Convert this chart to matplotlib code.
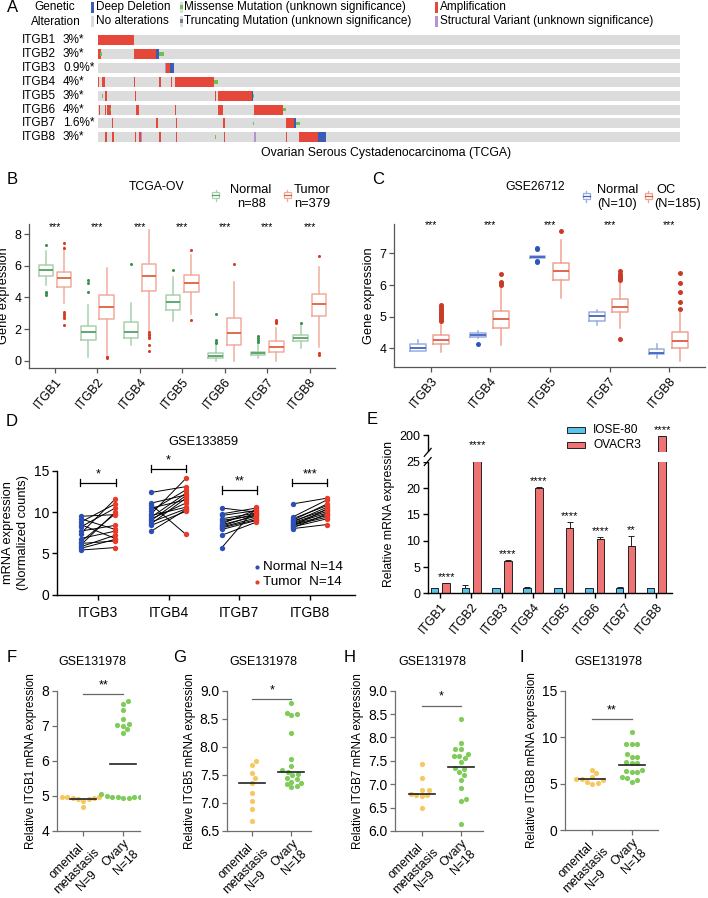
import numpy as np
import matplotlib
matplotlib.use('Agg')
import matplotlib.pyplot as plt
from matplotlib.patches import Rectangle
import matplotlib.transforms as mtransforms
from matplotlib.textpath import TextPath
from matplotlib.font_manager import FontProperties

FAMILY = ['Liberation Sans', 'DejaVu Sans']
plt.rcParams['font.family'] = FAMILY
plt.rcParams['axes.linewidth'] = 0.9

# ---------------- DATA ----------------
# Panel A (oncoprint, sample-index units)
onco_genes = ['ITGB1', 'ITGB2', 'ITGB3', 'ITGB4', 'ITGB5', 'ITGB6', 'ITGB7', 'ITGB8']
onco_pct = ['3%*', '3%*', '0.9%*', '4%*', '3%*', '4%*', '1.6%*', '3%*']
n_samples = 291
amp_segments = [
    (0, 0, 18),
    (1, 0, 1.6), (1, 18, 10.8),
    (2, 33.8, 2.4),
    (3, 0, 0.6), (3, 2.2, 1.3), (3, 18, 0.6), (3, 30.7, 0.6), (3, 36.5, 0.6), (3, 38.5, 19.3),
    (4, 3.5, 1.2), (4, 18.5, 0.6), (4, 58.5, 0.6), (4, 59.8, 17.4),
    (5, 0.3, 0.6), (5, 3.5, 0.6), (5, 4.7, 1.6), (5, 18.8, 1.7), (5, 38.5, 0.6), (5, 60.2, 2.3), (5, 77.8, 14.5),
    (6, 6.8, 0.6), (6, 29.2, 0.7), (6, 39, 0.6), (6, 62.7, 0.6), (6, 93.8, 4.4),
    (7, 3.5, 1.2), (7, 7.2, 1.0), (7, 18.5, 0.6), (7, 20.5, 1.0), (7, 30.7, 0.6), (7, 39, 0.6),
    (7, 62.8, 0.6), (7, 94, 0.6), (7, 100.7, 9.1),
]
del_segments = [(1, 28.8, 1.7), (2, 36.2, 2.0), (4, 77.2, 0.5), (6, 98.2, 0.6), (7, 109.8, 4.0)]
mis_segments = [(1, 1.0, 0.8), (1, 30.7, 2.3), (3, 58.0, 1.8), (4, 2.2, 0.5), (4, 77.4, 0.5),
                (5, 6.0, 0.6), (5, 92.3, 1.7), (6, 77.7, 0.5), (6, 98.8, 2.0), (7, 58.5, 0.5)]
sv_segments = [(2, 33.4, 0.4), (7, 21.5, 0.4), (7, 78.2, 0.6)]

# Panel B (TCGA-OV box stats)
b_genes = ['ITGB1', 'ITGB2', 'ITGB4', 'ITGB5', 'ITGB6', 'ITGB7', 'ITGB8']
b_norm_q1 = [5.38, 1.31, 1.41, 3.21, 0.15, 0.36, 1.25]
b_norm_med = [5.74, 1.79, 1.84, 3.74, 0.32, 0.46, 1.46]
b_norm_q3 = [6.06, 2.22, 2.43, 4.16, 0.46, 0.57, 1.63]
b_norm_lo = [4.79, 0.25, 0.99, 2.51, 0.0, 0.15, 0.78]
b_norm_hi = [6.95, 3.52, 3.63, 5.32, 0.99, 1.1, 2.26]
b_norm_fl = [[7.32, 4.37, 4.25, 4.16], [5.1, 4.9, 4.37], [6.12], [5.74],
             [1.1, 1.2, 1.3, 2.93], [1.2, 1.3, 1.4, 1.55], [2.35]]
b_tum_q1 = [4.64, 2.62, 4.4, 4.37, 0.99, 0.57, 2.83]
b_tum_med = [5.21, 3.38, 5.38, 4.9, 1.73, 0.84, 3.57]
b_tum_q3 = [5.64, 4.16, 6.1, 5.42, 2.68, 1.27, 4.22]
b_tum_lo = [3.63, 0.36, 1.9, 2.93, 0.0, 0.0, 0.89]
b_tum_hi = [7.2, 5.85, 8.27, 6.69, 5.0, 2.05, 5.95]
b_tum_fl = [[7.43, 7.15, 3.1, 2.95, 2.8, 2.68, 2.26], [0.25, 0.2, 0.15],
            [1.78, 1.7, 1.6, 1.5, 1.41, 0.99, 0.63], [7.0, 2.58], [6.12],
            [2.58, 2.5, 2.45, 2.36], [6.63, 0.46, 0.36]]

# Panel C (GSE26712 box stats)
c_genes = ['ITGB3', 'ITGB4', 'ITGB5', 'ITGB7', 'ITGB8']
c_norm_q1 = [3.93, 4.37, 6.86, 4.86, 3.81]
c_norm_med = [4.0, 4.42, 6.89, 5.02, 3.84]
c_norm_q3 = [4.13, 4.47, 6.93, 5.14, 3.97]
c_norm_lo = [3.93, 4.32, 6.86, 4.74, 3.71]
c_norm_hi = [4.26, 4.56, 6.93, 5.21, 4.13]
c_norm_fl = [[], [4.13], [7.14, 7.18, 6.76, 6.72], [], []]
c_oc_q1 = [4.13, 4.65, 6.16, 5.14, 4.0]
c_oc_med = [4.26, 4.92, 6.46, 5.31, 4.23]
c_oc_q3 = [4.42, 5.18, 6.69, 5.55, 4.51]
c_oc_lo = [3.89, 4.1, 5.58, 4.63, 3.61]
c_oc_hi = [4.8, 5.95, 7.42, 6.1, 5.16]
c_oc_fl = [[4.85, 4.9, 4.95, 5.0, 5.05, 5.1, 5.15, 5.2, 5.25, 5.3, 5.37],
           [6.0, 6.05, 6.1, 6.34], [7.7],
           [6.16, 6.2, 6.25, 6.3, 6.35, 6.44, 4.29],
           [5.24, 5.47, 5.79, 6.05, 6.39]]

# Panel D (GSE133859 paired)
d_genes = ['ITGB3', 'ITGB4', 'ITGB7', 'ITGB8']
d_normal = [
    [9.5, 9.2, 8.8, 8.5, 8.2, 7.7, 7.4, 6.8, 6.4, 6.2, 6.0, 5.8, 5.6, 5.4],
    [12.4, 11.1, 10.9, 10.5, 10.2, 9.8, 9.6, 9.4, 9.2, 9.0, 8.8, 8.6, 8.4, 7.7],
    [10.5, 9.8, 9.6, 9.2, 9.0, 8.8, 8.6, 8.5, 8.3, 8.2, 8.1, 7.9, 7.2, 5.7],
    [11.0, 9.4, 9.2, 9.0, 8.9, 8.8, 8.7, 8.6, 8.5, 8.4, 8.3, 8.2, 8.1, 8.0],
]
d_tumor = [
    [9.7, 7.9, 11.0, 6.8, 10.5, 8.4, 11.6, 7.7, 9.8, 6.5, 10.0, 7.2, 6.7, 5.7],
    [13.1, 12.1, 7.3, 11.5, 12.7, 14.1, 10.6, 12.3, 11.1, 12.0, 10.4, 11.7, 10.1, 10.3],
    [10.0, 10.5, 10.2, 9.9, 9.6, 9.8, 10.3, 9.5, 9.7, 9.3, 9.1, 9.0, 8.8, 10.6],
    [11.7, 11.5, 10.8, 11.0, 10.3, 10.6, 10.1, 9.9, 9.6, 9.4, 10.4, 9.2, 9.8, 8.5],
]
d_bracket = [13.6, 15.3, 12.7, 13.6]
d_stars = ['*', '*', '**', '***']

# Panel E (qPCR)
e_genes = ['ITGB1', 'ITGB2', 'ITGB3', 'ITGB4', 'ITGB5', 'ITGB6', 'ITGB7', 'ITGB8']
e_iose = [1.0, 1.05, 1.0, 1.0, 1.0, 1.0, 1.0, 1.0]
e_iose_err = [0.05, 0.45, 0.08, 0.12, 0.08, 0.08, 0.15, 0.05]
e_ovacr3 = [1.9, 27.0, 6.15, 20.1, 12.5, 10.3, 8.9, 188.0]
e_ovacr3_err = [0.06, 0.2, 0.1, 0.1, 1.0, 0.35, 2.0, 1.0]
e_stars = ['****', '****', '****', '****', '****', '****', '**', '****']

# Panels F-I (GSE131978)
fi_groups = ['omental\nmetastasis\nN=9', 'Ovary\nN=18']
f_omental = [4.98, 4.95, 4.92, 4.9, 4.93, 4.97, 4.98, 4.85, 4.68]
f_ovary = [7.72, 7.62, 7.45, 7.2, 7.05, 7.0, 7.02, 6.9, 6.78,
           5.05, 5.02, 5.0, 4.98, 4.97, 4.96, 4.95, 4.97, 4.95]
f_center = [4.92, 5.92]
g_omental = [7.74, 7.67, 7.54, 7.45, 7.36, 7.17, 7.04, 6.89, 6.67]
g_ovary = [8.78, 8.61, 8.58, 8.56, 8.25, 7.78, 7.66, 7.58, 7.56, 7.52, 7.5, 7.45, 7.42,
           7.38, 7.36, 7.33, 7.3, 7.28]
g_center = [7.36, 7.55]
h_omental = [7.43, 7.13, 6.88, 6.88, 6.79, 6.77, 6.78, 6.75, 6.5]
h_ovary = [8.4, 7.88, 7.75, 7.75, 7.65, 7.6, 7.6, 7.56, 7.47, 7.34, 7.32, 7.26, 7.19,
           7.09, 6.91, 6.68, 6.64, 6.16]
h_center = [6.79, 7.36]
i_omental = [6.5, 6.1, 5.66, 5.5, 5.5, 5.4, 5.2, 5.1, 5.0]
i_ovary = [10.5, 9.3, 9.3, 9.3, 8.2, 7.9, 7.9, 7.35, 7.2, 7.2, 6.5, 6.3, 6.2, 6.2,
           5.7, 5.4, 5.2, 5.6]
i_center = [5.45, 7.0]

# ---------------- FIGURE ----------------
W, H = 708, 898
fig = plt.figure(figsize=(W / 100, H / 100), dpi=100)


def px_axes(x0, y0, x1, y1):
    return fig.add_axes([x0 / W, 1 - y1 / H, (x1 - x0) / W, (y1 - y0) / H])


ov = px_axes(0, 0, W, H)
ov.set_xlim(0, W)
ov.set_ylim(H, 0)
ov.axis('off')
ov.set_zorder(10)

for lab, x, y in [('A', 13, 8), ('B', 12, 180), ('C', 378, 180), ('D', 12, 422),
                  ('E', 372, 420), ('F', 12, 658), ('G', 180, 658), ('H', 350, 658),
                  ('I', 522, 658)]:
    ov.text(x, y, lab, fontsize=12, ha='center', va='center')

# ---------------- Panel A ----------------
C_AMP, C_DEL, C_MIS, C_GREY, C_SV, C_TR = '#e5483b', '#3a5cb5', '#6cc24a', '#dcdcdc', '#b493cf', '#6d7f99'
ax_a = px_axes(98, 33, 680, 144.3)
ax_a.set_xlim(0, n_samples)
ax_a.set_ylim(len(onco_genes) - 0.5, -0.5)
ax_a.axis('off')
bh = 0.72
rows = np.arange(len(onco_genes))
ax_a.barh(rows, [n_samples] * len(rows), left=0, height=bh, color=C_GREY, linewidth=0)
for r, s, w in amp_segments:
    ax_a.barh(r, w, left=s, height=bh, color=C_AMP, linewidth=0)
for r, s, w in del_segments:
    ax_a.barh(r, w, left=s, height=bh, color=C_DEL, linewidth=0)
for r, s, w in sv_segments:
    ax_a.barh(r, w, left=s, height=bh, color=C_SV, linewidth=0)
for r, s, w in mis_segments:
    ax_a.barh(r, w, left=s, height=bh * 0.38, color=C_MIS, linewidth=0)

tr_a = mtransforms.blended_transform_factory(ov.transData, ax_a.transData)
for i, (g, p) in enumerate(zip(onco_genes, onco_pct)):
    ax_a.text(22, i, g, transform=tr_a, fontsize=8.5, va='center', ha='left')
    ax_a.text(63, i, p, transform=tr_a, fontsize=8.5, va='center', ha='left')

ov.text(55, 7, 'Genetic', fontsize=8.5, ha='center', va='center')
ov.text(56, 22, 'Alteration', fontsize=8.5, ha='center', va='center')
leg_a = [
    (90.5, 7, 'Deep Deletion', 'del'),
    (179.5, 7, 'Missense Mutation (unknown significance)', 'mis'),
    (434.5, 7, 'Amplification', 'amp'),
    (90.5, 21, 'No alterations', 'none'),
    (179.5, 21, 'Truncating Mutation (unknown significance)', 'tr'),
    (434.5, 21, 'Structural Variant (unknown significance)', 'sv'),
]
for x, y, lab, kind in leg_a:
    base = {'del': C_DEL, 'amp': C_AMP, 'sv': C_SV}.get(kind, C_GREY)
    ov.add_patch(Rectangle((x, y - 5.5), 3.2, 11, color=base, lw=0))
    if kind == 'mis':
        ov.add_patch(Rectangle((x, y - 2), 3.2, 4, color=C_MIS, lw=0))
    if kind == 'tr':
        ov.add_patch(Rectangle((x, y - 2), 3.2, 4, color=C_TR, lw=0))
    ov.text(x + 5, y, lab, fontsize=8.5, ha='left', va='center')
ov.text(386, 153, 'Ovarian Serous Cystadenocarcinoma (TCGA)', fontsize=8.8,
        ha='center', va='center')


# ---------------- helpers ----------------
def mkstats(q1, med, q3, lo, hi, fl):
    return [dict(q1=a, med=b, q3=c, whislo=d, whishi=e, fliers=f)
            for a, b, c, d, e, f in zip(q1, med, q3, lo, hi, fl)]


def draw_boxes(ax, stats, positions, width, edge, med, flier, ms):
    ax.bxp(stats, positions=positions, widths=width, showcaps=False, manage_ticks=False,
           boxprops=dict(color=edge, lw=1.1), whiskerprops=dict(color=edge, lw=1.1),
           medianprops=dict(color=med, lw=1.3),
           flierprops=dict(marker='o', ms=ms, mfc=flier, mec='none'))


def style_axes(ax, color, lw=0.9):
    for s in ['top', 'right']:
        ax.spines[s].set_visible(False)
    for s in ['left', 'bottom']:
        ax.spines[s].set_color(color)
        ax.spines[s].set_linewidth(lw)
    ax.tick_params(color=color, length=3.5, width=lw, labelsize=9, pad=2)


def box_icon(x, y, edge, med):
    ov.add_patch(Rectangle((x - 3.5, y - 3), 7, 6, fill=False, ec=edge, lw=0.9))
    ov.plot([x - 3.5, x + 3.5], [y, y], color=med, lw=0.9)
    ov.plot([x, x], [y - 3, y - 5.5], color=edge, lw=0.9)
    ov.plot([x, x], [y + 3, y + 5.5], color=edge, lw=0.9)


# ---------------- Panel B ----------------
ax_b = px_axes(29.3, 224, 335, 367.7)
pos_b = np.arange(len(b_genes))
draw_boxes(ax_b, mkstats(b_norm_q1, b_norm_med, b_norm_q3, b_norm_lo, b_norm_hi, b_norm_fl),
           pos_b - 0.21, 0.34, '#a9d1ae', '#55a063', '#3e8f4f', 2.2)
draw_boxes(ax_b, mkstats(b_tum_q1, b_tum_med, b_tum_q3, b_tum_lo, b_tum_hi, b_tum_fl),
           pos_b + 0.22, 0.34, '#f1ad9c', '#e0603c', '#d83b22', 2.2)
ax_b.set_xlim(-0.6, 6.6)
ax_b.set_ylim(-0.45, 8.65)
ax_b.set_yticks([0, 2, 4, 6, 8])
ax_b.set_xticks(pos_b)
ax_b.set_xticklabels(b_genes, rotation=50, ha='right', rotation_mode='anchor', fontsize=9)
style_axes(ax_b, '#555555')
ax_b.set_ylabel('Gene expression', fontsize=9.2, labelpad=3)
for p in pos_b:
    ax_b.text(p, 8.48, '***', ha='center', va='center', fontsize=7.5)
ov.text(157, 187, 'TCGA-OV', fontsize=8.8, ha='center', va='center')
box_icon(215.5, 195, '#a9d1ae', '#55a063')
ov.text(251, 190, 'Normal', fontsize=9.3, ha='center', va='center')
ov.text(252, 204, 'n=88', fontsize=9.3, ha='center', va='center')
box_icon(287, 195, '#f1ad9c', '#e0603c')
ov.text(312, 190, 'Tumor', fontsize=9.3, ha='center', va='center')
ov.text(312, 204, 'n=379', fontsize=9.3, ha='center', va='center')

# ---------------- Panel C ----------------
ax_c = px_axes(394.3, 224.3, 705, 366.7)
pos_c = np.arange(len(c_genes))
draw_boxes(ax_c, mkstats(c_norm_q1, c_norm_med, c_norm_q3, c_norm_lo, c_norm_hi, c_norm_fl),
           pos_c - 0.21, 0.26, '#99addf', '#3e63c2', '#2e55b8', 3.6)
draw_boxes(ax_c, mkstats(c_oc_q1, c_oc_med, c_oc_q3, c_oc_lo, c_oc_hi, c_oc_fl),
           pos_c + 0.18, 0.27, '#eda392', '#dc5a44', '#c93c28', 3.6)
ax_c.set_xlim(-0.61, 4.6)
ax_c.set_ylim(3.42, 7.92)
ax_c.set_yticks([4, 5, 6, 7])
ax_c.set_xticks(pos_c)
ax_c.set_xticklabels(c_genes, rotation=50, ha='right', rotation_mode='anchor', fontsize=9)
style_axes(ax_c, '#555555')
ax_c.set_ylabel('Gene expression', fontsize=9.2, labelpad=3)
for p in pos_c:
    ax_c.text(p, 7.9, '***', ha='center', va='center', fontsize=7.5)
ov.text(535, 187, 'GSE26712', fontsize=8.8, ha='center', va='center')
box_icon(586, 196, '#99addf', '#3e63c2')
ov.text(597, 190, 'Normal', fontsize=9.3, ha='left', va='center')
ov.text(597, 204, '(N=10)', fontsize=9.3, ha='left', va='center')
box_icon(648, 196, '#eda392', '#dc5a44')
ov.text(656, 190, 'OC', fontsize=9.3, ha='left', va='center')
ov.text(654, 204, '(N=185)', fontsize=9.3, ha='left', va='center')

# ---------------- Panel D ----------------
ax_d = px_axes(57.3, 471, 355, 594.5)
pos_d = np.arange(len(d_genes))
for i in pos_d:
    nv, tv = d_normal[i], d_tumor[i]
    for a, b in zip(nv, tv):
        ax_d.plot([i - 0.245, i + 0.245], [a, b], color='black', lw=0.7, zorder=2)
    ax_d.scatter(np.full(len(nv), i - 0.245), nv, s=15, color='#2c4fb3', zorder=3, lw=0)
    ax_d.scatter(np.full(len(tv), i + 0.245), tv, s=15, color='#ea3a2a', zorder=3, lw=0)
    yb = d_bracket[i]
    ax_d.plot([i - 0.25, i + 0.25], [yb, yb], color='black', lw=0.9, clip_on=False)
    for xe in (i - 0.25, i + 0.25):
        ax_d.plot([xe, xe], [yb - 0.45, yb + 0.45], color='black', lw=0.9, clip_on=False)
    ax_d.annotate(d_stars[i], (i, yb), xytext=(0, 1.5), textcoords='offset points',
                  ha='center', va='bottom', fontsize=9, annotation_clip=False)
ax_d.set_xlim(-0.576, 3.64)
ax_d.set_ylim(0, 15)
ax_d.set_yticks([0, 5, 10, 15])
ax_d.set_xticks(pos_d)
ax_d.set_xticklabels(d_genes, fontsize=10)
style_axes(ax_d, 'black', 1.0)
ax_d.tick_params(labelsize=10)
ax_d.tick_params(axis='x', pad=5)
ax_d.set_ylabel('mRNA expression\n(Normalized counts)', fontsize=9.3, linespacing=1.25, labelpad=4)
ov.text(203, 442, 'GSE133859', fontsize=9.3, ha='center', va='center')
ov.scatter([257], [567], s=9, color='#2c4fb3', lw=0)
ov.scatter([257], [582], s=9, color='#ea3a2a', lw=0)
ov.text(263, 567, 'Normal N=14', fontsize=9.7, ha='left', va='center')
ov.text(263, 582, 'Tumor  N=14', fontsize=9.7, ha='left', va='center')

# ---------------- Panel E ----------------
E_BREAK, E_GAP_TOP, E_K = 25.0, 26.9, 0.018286


def e_fwd(v):
    v = np.asarray(v, dtype=float)
    return np.where(v <= E_BREAK, v, E_GAP_TOP + (v - E_BREAK) * E_K)


def e_inv(f):
    f = np.asarray(f, dtype=float)
    return np.where(f <= E_BREAK, f,
                    np.where(f < E_GAP_TOP, E_BREAK, E_BREAK + (f - E_GAP_TOP) / E_K))


ax_e = px_axes(427.7, 435, 671.7, 593.3)
ax_e.set_yscale('function', functions=(e_fwd, e_inv))
pos_e = np.arange(len(e_genes))
bw = 0.245
ax_e.bar(pos_e - 0.19, e_iose, width=bw, color='#5cc3ec', edgecolor='#222222', lw=0.7,
         yerr=[np.zeros(len(e_iose)), e_iose_err], capsize=2,
         error_kw=dict(lw=0.7, capthick=0.7, ecolor='#222222'), zorder=2)
ax_e.bar(pos_e + 0.19, e_ovacr3, width=bw, color='#ee7372', edgecolor='#222222', lw=0.7,
         yerr=[np.zeros(len(e_ovacr3)), e_ovacr3_err], capsize=2,
         error_kw=dict(lw=0.7, capthick=0.7, ecolor='#222222'), zorder=2)
ax_e.set_xlim(-0.41, 7.5)
ax_e.set_ylim(0, 200)
ax_e.set_yticks([0, 5, 10, 15, 20, 25, 200])
ax_e.set_yticklabels(['0', '5', '10', '15', '20', '25', '200'])
ax_e.set_xticks(pos_e)
ax_e.set_xticklabels(e_genes, rotation=50, ha='right', rotation_mode='anchor', fontsize=8.8)
style_axes(ax_e, 'black', 1.0)
ax_e.set_ylabel('Relative mRNA expression', fontsize=8.8, labelpad=3)
for i in pos_e:
    top = e_ovacr3[i] + e_ovacr3_err[i]
    ax_e.annotate(e_stars[i], (i + 0.19, top), xytext=(0, 1), textcoords='offset points',
                  ha='center', va='bottom', fontsize=8, annotation_clip=False)
ftop = float(e_fwd(200))
g0, g1 = float(e_fwd(E_BREAK)) / ftop + 0.002, (E_GAP_TOP - 0.1) / ftop
ax_e.add_patch(Rectangle((-0.03, g0), 1.03, g1 - g0, transform=ax_e.transAxes,
                         color='white', lw=0, zorder=2.6, clip_on=False))
for gy in (g0, g1):
    ax_e.plot([-0.014, 0.014], [gy - 0.025, gy + 0.025], transform=ax_e.transAxes,
              color='black', lw=0.9, clip_on=False, zorder=3)
ov.add_patch(Rectangle((567, 427), 18, 6, fc='#5cc3ec', ec='#222222', lw=0.7))
ov.add_patch(Rectangle((567, 442), 18, 6, fc='#ee7372', ec='#222222', lw=0.7))
ov.text(593, 430, 'IOSE-80', fontsize=8.6, ha='left', va='center')
ov.text(593, 445, 'OVACR3', fontsize=8.6, ha='left', va='center')


# ---------------- Panels F-I ----------------
def swarm_x(ax, center, values, diam):
    T = ax.transData
    pts = T.transform(np.column_stack([np.full(len(values), center), values]))
    ypix = pts[:, 1]
    xunit = T.transform((1, 0))[0] - T.transform((0, 0))[0]
    order = np.argsort(ypix)
    px_l, py_l = [], []
    offs = np.zeros(len(values))
    for idx in order:
        y = ypix[idx]
        cands = [0.0]
        for qx, qy in zip(px_l, py_l):
            dy = abs(qy - y)
            if dy < diam:
                dx = np.sqrt(diam ** 2 - dy ** 2)
                cands += [qx + dx, qx - dx]
        cands = sorted(cands, key=abs)
        choice = cands[-1]
        for c in cands:
            if all((c - qx) ** 2 + (y - qy) ** 2 >= diam ** 2 - 1e-6 for qx, qy in zip(px_l, py_l)):
                choice = c
                break
        px_l.append(choice)
        py_l.append(y)
        offs[idx] = choice / xunit
    return center + offs


LAB_FS = 8.8
lab_fp = FontProperties(family=FAMILY, size=LAB_FS)


def text_width_pt(s):
    return TextPath((0, 0), s, prop=lab_fp).get_extents().width


def rotated_group_labels(ax, labels, fs, drop=4.5):
    # multi-line labels at 45 deg: each line drawn separately, centred on the widest line
    pitch = fs * 1.12
    c45 = np.sqrt(0.5)
    for k, lab in enumerate(labels):
        lines = lab.split('\n')
        wmax = max(text_width_pt(l) for l in lines)
        for j, line in enumerate(lines):
            dx = -c45 * wmax / 2 + c45 * j * pitch
            dy = -c45 * wmax / 2 - c45 * j * pitch - drop
            ax.annotate(line, xy=(k, 0), xycoords=('data', 'axes fraction'),
                        xytext=(dx, dy), textcoords='offset points', rotation=45,
                        rotation_mode='anchor', ha='center', va='top', fontsize=fs,
                        annotation_clip=False)


fi_specs = [
    ((56.7, 690.7, 140, 831), (-0.666, 1.42), (4, 8), [4, 5, 6, 7, 8], '{:.0f}',
     f_omental, f_ovary, f_center, 7.9, '**', 'ITGB1', 92),
    ((226.7, 690.7, 311, 831), (-0.65, 1.5), (6.5, 9.0), [6.5, 7.0, 7.5, 8.0, 8.5, 9.0], '{:.1f}',
     g_omental, g_ovary, g_center, 8.85, '*', 'ITGB5', 263),
    ((395, 690.7, 483.3, 831), (-0.68, 1.57), (6.0, 9.0), [6.0, 6.5, 7.0, 7.5, 8.0, 8.5, 9.0], '{:.1f}',
     h_omental, h_ovary, h_center, 8.68, '*', 'ITGB7', 432),
    ((565, 690.7, 658, 830), (-0.69, 1.67), (0, 15), [0, 5, 10, 15], '{:.0f}',
     i_omental, i_ovary, i_center, 11.9, '**', 'ITGB8', 608),
]
C_YEL, C_GRN = '#f6c862', '#7fcc5a'
for rect, xl, yl, yt, fmt, om, ovv, cen, sig, star, gene, tx in fi_specs:
    ax = px_axes(*rect)
    ax.set_xlim(*xl)
    ax.set_ylim(*yl)
    ax.set_yticks(yt)
    ax.set_yticklabels([fmt.format(v) for v in yt])
    ax.set_xticks([0, 1])
    ax.set_xticklabels([])
    style_axes(ax, '#6e6e6e', 0.9)
    ax.tick_params(axis='y', labelsize=10)
    rotated_group_labels(ax, fi_groups, LAB_FS)
    ax.scatter(swarm_x(ax, 0, om, 5.6), om, s=14, color=C_YEL, lw=0, zorder=3)
    ax.scatter(swarm_x(ax, 1, ovv, 5.6), ovv, s=14, color=C_GRN, lw=0, zorder=3)
    for k, c in enumerate(cen):
        ax.plot([k - 0.33, k + 0.33], [c, c], color='#222222', lw=1.2, zorder=4)
    ax.plot([0, 1], [sig, sig], color='#666666', lw=0.9, clip_on=False)
    ax.annotate(star, (0.5, sig), xytext=(0, 2), textcoords='offset points',
                ha='center', va='bottom', fontsize=9, annotation_clip=False)
    ax.set_ylabel('Relative %s mRNA expression' % gene, fontsize=8.4, labelpad=3)
    ov.text(tx, 662, 'GSE131978', fontsize=9, ha='center', va='center')

fig.savefig('out.png', dpi=100)
